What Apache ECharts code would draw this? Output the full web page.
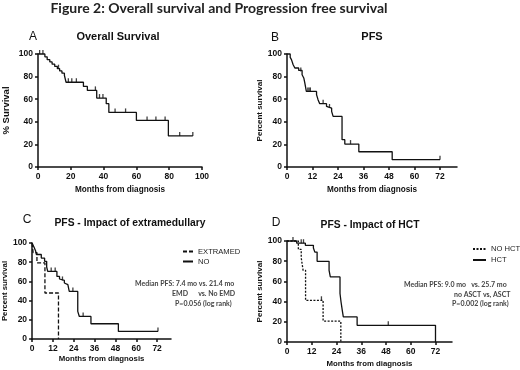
<!DOCTYPE html>
<html>
<head>
<meta charset="utf-8">
<script src="https://cdn.jsdelivr.net/npm/echarts@6/dist/echarts.min.js"></script>
<style>
html, body { margin: 0; padding: 0; background: #fff; }
#chart { width: 520px; height: 370px; }
</style>
</head>
<body>
<div id="chart"></div>
<script>
// tick labels
var pctTicks = [0, 20, 40, 60, 80, 100];
var osMonthTicks = [0, 20, 40, 60, 80, 100];
var pfsMonthTicks = [0, 12, 24, 36, 48, 60, 72];

// steps are [month, % after the drop at that month]; censored are [month, %]
// A - overall survival
var osSteps = [[0, 100], [4.2, 97.5], [5.6, 95], [7.2, 93], [8.6, 91], [10.2, 89], [11.8, 87], [13.2, 85],
  [14.6, 83], [16.1, 81], [17.1, 75], [27.7, 71.3], [30.1, 67.8], [35.8, 61], [41.6, 56], [43.2, 48.3],
  [60, 41.2], [79.5, 27.5], [94.4, 27.5]];
var osCensored = [[1, 100], [3, 100], [12.5, 87], [18.5, 75], [20.6, 75], [23.4, 75], [35, 67.8],
  [37.5, 61], [39.6, 61], [47, 48.3], [53.4, 48.3], [66.5, 41.2], [71.9, 41.2], [77.5, 41.2],
  [86.4, 27.5], [94.4, 27.5]];

// B - PFS
var pfsSteps = [[0, 100], [1.5, 97], [2.1, 95], [2.9, 90.5], [3.7, 87.6], [5.5, 85.5], [7.1, 81.7],
  [7.9, 78.8], [8.4, 74.3], [9.1, 66.9], [13.9, 64], [14.6, 59.6], [15.4, 56], [18.6, 53.6], [19.4, 52.2],
  [21, 49.2], [21.7, 44.8], [25.9, 24.2], [27.2, 20.3], [33.8, 13.5], [49.5, 6.5], [72, 6.5]];
var pfsCensored = [[6.5, 84.6], [9.8, 66.9], [10.4, 66.9], [11, 66.9], [17, 56], [20, 52.2],
  [29.9, 20.3], [72, 6.5]];

// C - extramedullary vs no
var emdSteps = [[0, 100], [0.6, 90], [2.8, 79.2], [7.4, 47.9], [15.2, 0]];
var emdCensored = [];
var noEmdSteps = [[0, 100], [1, 96], [2, 92], [2.5, 88], [5.3, 84.3], [7.2, 80.9], [8.4, 75], [9, 70.4],
  [14.3, 65.2], [15.8, 62.5], [16.7, 61], [18.6, 58.3], [19.6, 56.6], [20.6, 54.8], [21.4, 49.6],
  [26.3, 28.8], [27.2, 23.5], [33.9, 15.9], [49.7, 7.9], [72.5, 7.9]];
var noEmdCensored = [[11, 70.4], [13.3, 70.4], [17.5, 61], [23.5, 49.6], [29.4, 23.5], [72.5, 7.9]];

// D - HCT vs no HCT
var noHctSteps = [[0, 100], [5.5, 91.7], [6.9, 83.3], [7.8, 71], [9, 41.3], [17.5, 20.7], [26.1, 0]];
var noHctCensored = [[16.7, 41.3]];
var hctSteps = [[0, 100], [4.7, 97.8], [8.9, 95.7], [12.8, 93], [13.5, 89], [14.6, 79.9], [20.4, 71],
  [21, 64.4], [25.7, 48], [26.2, 39.6], [26.8, 31.4], [27.3, 24.8], [34, 16.5], [72, 0]];
var hctCensored = [[2.9, 100], [6.9, 97.8], [8, 97.8], [49.1, 16.5]];

var chart = echarts.init(document.getElementById("chart"));

var ink = "#111";

function xAxisFor(idx, max, ticks, nameSize, nameGap) {
  return {
    gridIndex: idx,
    type: "value",
    min: 0,
    max: max,
    interval: ticks[1] - ticks[0],
    name: "Months from diagnosis",
    nameLocation: "middle",
    nameGap: nameGap,
    nameTextStyle: { fontWeight: "bold", fontSize: nameSize, color: ink },
    axisLine: { lineStyle: { color: ink, width: 1.5 } },
    axisTick: { length: 3, lineStyle: { color: ink, width: 1.5 }, customValues: ticks },
    axisLabel: { fontSize: 8.5, fontWeight: "bold", color: ink, margin: 5, customValues: ticks },
    splitLine: { show: false }
  };
}

function yAxisFor(idx, name, nameSize, nameGap) {
  return {
    gridIndex: idx,
    type: "value",
    min: 0,
    max: 100,
    interval: 20,
    name: name,
    nameLocation: "middle",
    nameGap: nameGap,
    nameTextStyle: { fontWeight: "bold", fontSize: nameSize, color: ink },
    axisLine: { show: true, lineStyle: { color: ink, width: 1.5 } },
    axisTick: { show: true, length: 3, lineStyle: { color: ink, width: 1.5 } },
    axisLabel: { fontSize: 8.5, fontWeight: "bold", color: ink, margin: 5, customValues: pctTicks },
    splitLine: { show: false }
  };
}

function curve(name, idx, data, dash) {
  return {
    name: name,
    type: "line",
    step: "end",
    xAxisIndex: idx,
    yAxisIndex: idx,
    data: data,
    showSymbol: false,
    clip: false,
    silent: true,
    itemStyle: { color: ink },
    lineStyle: { color: ink, width: 1.3, type: dash || "solid" }
  };
}

function censored(idx, data) {
  return {
    type: "scatter",
    xAxisIndex: idx,
    yAxisIndex: idx,
    data: data,
    symbol: "rect",
    symbolSize: [1.3, 4],
    symbolOffset: [0, -2],
    clip: false,
    silent: true,
    itemStyle: { color: ink }
  };
}

function label(text, x, y, font, align, fill) {
  return {
    type: "text",
    x: x,
    y: y,
    style: { text: text, font: font, align: align || "center", verticalAlign: "middle", fill: fill || ink }
  };
}

var noteFont = "bold 7px Lato";
var noteColor = "#444";

chart.setOption({
  animation: false,
  textStyle: { fontFamily: "Liberation Sans" },
  grid: [
    { left: 34, top: 54, width: 168, height: 113 },
    { left: 287, top: 54, width: 170, height: 113 },
    { left: 31, top: 243, width: 140, height: 96 },
    { left: 287, top: 241, width: 165, height: 101 }
  ],
  xAxis: [
    xAxisFor(0, 100, osMonthTicks, 8.2, 19),
    xAxisFor(1, 80, pfsMonthTicks, 8.2, 19),
    xAxisFor(2, 80, pfsMonthTicks, 7.8, 16),
    xAxisFor(3, 80, pfsMonthTicks, 7.8, 18)
  ],
  yAxis: [
    yAxisFor(0, "% Survival", 9.5, 27),
    yAxisFor(1, "Percent survival", 8, 21),
    yAxisFor(2, "Percent survival", 7.8, 22),
    yAxisFor(3, "Percent survival", 8, 23)
  ],
  legend: [
    {
      data: ["EXTRAMED", "NO"], orient: "vertical", left: 182, top: 247.5, padding: 0,
      itemWidth: 10, itemHeight: 6, itemGap: 2, selectedMode: false,
      itemStyle: { opacity: 0 },
      textStyle: { fontSize: 7.6, color: "#222" }
    },
    {
      data: ["NO HCT", "HCT"], orient: "vertical", left: 472, top: 245, padding: 0,
      itemWidth: 13, itemHeight: 6, itemGap: 3, selectedMode: false,
      itemStyle: { opacity: 0 },
      textStyle: { fontSize: 7.6, color: "#222" }
    }
  ],
  series: [
    curve("Overall Survival", 0, osSteps),
    censored(0, osCensored),
    curve("PFS", 1, pfsSteps),
    censored(1, pfsCensored),
    curve("EXTRAMED", 2, emdSteps, [4, 2]),
    censored(2, emdCensored),
    curve("NO", 2, noEmdSteps),
    censored(2, noEmdCensored),
    curve("NO HCT", 3, noHctSteps, [2, 1.5]),
    censored(3, noHctCensored),
    curve("HCT", 3, hctSteps),
    censored(3, hctCensored)
  ],
  graphic: [
    label("Figure 2: Overall survival and Progression free survival", 219, 8, "bold 14px Lato", "center", "#222"),
    label("A", 33, 37, "12px Liberation Sans"),
    label("Overall Survival", 118, 37, "bold 11px Liberation Sans"),
    label("B", 275, 38, "12px Liberation Sans"),
    label("PFS", 372, 37, "bold 11px Liberation Sans"),
    label("C", 27, 220, "12px Liberation Sans"),
    label("PFS - Impact of extramedullary", 130, 223, "bold 10.3px Liberation Sans"),
    label("D", 276, 223, "12px Liberation Sans"),
    label("PFS - Impact of HCT", 370, 225, "bold 10.3px Liberation Sans"),
    label("Median PFS: 7.4 mo vs. 21.4 mo", 135, 284, noteFont, "left", noteColor),
    label("EMD      vs. No EMD", 172, 294, noteFont, "left", noteColor),
    label("P=0.056 (log rank)", 175, 304, noteFont, "left", noteColor),
    label("Median PFS: 9.0 mo   vs. 25.7 mo", 404, 285, noteFont, "left", noteColor),
    label("no ASCT vs, ASCT", 454, 295, noteFont, "left", noteColor),
    label("P=0.002 (log rank)", 452, 304, noteFont, "left", noteColor)
  ]
});
</script>
</body>
</html>
